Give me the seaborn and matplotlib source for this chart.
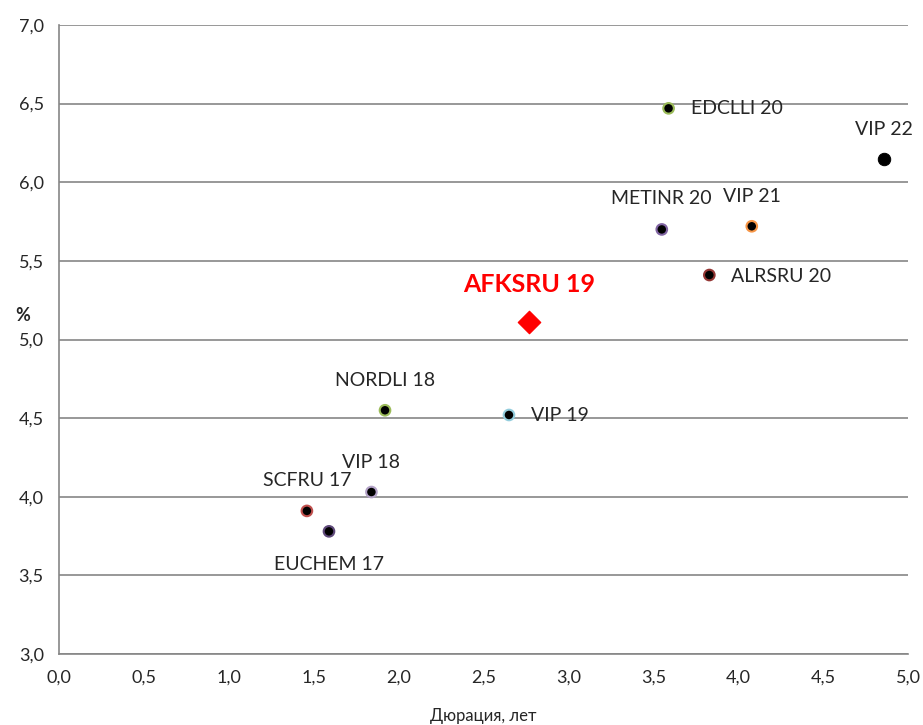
import pandas as pd
import seaborn as sns
import matplotlib.pyplot as plt

sns.set_style("white")
plt.rcParams['font.family'] = ['Lato', 'DejaVu Sans']

# bonds: duration (years) vs yield (%)
names = ['EDCLLI 20', 'VIP 22', 'METINR 20', 'VIP 21', 'ALRSRU 20', 'NORDLI 18',
         'VIP 19', 'VIP 18', 'SCFRU 17', 'EUCHEM 17']
duration = [3.59, 4.86, 3.55, 4.08, 3.83, 1.92, 2.65, 1.84, 1.46, 1.59]
yields = [6.47, 6.15, 5.70, 5.72, 5.41, 4.55, 4.52, 4.03, 3.91, 3.78]
edges = ['#9bbb59', '#000000', '#8064a2', '#f79646', '#943634', '#9bbb59',
         '#93cddd', '#b3a2c7', '#c0504d', '#5f497a']

hl_name = 'AFKSRU 19'
hl_duration = 2.77
hl_yield = 5.11

x_ticks = [0.0, 0.5, 1.0, 1.5, 2.0, 2.5, 3.0, 3.5, 4.0, 4.5, 5.0]
y_ticks = [3.0, 3.5, 4.0, 4.5, 5.0, 5.5, 6.0, 6.5, 7.0]

# label placement (pixel offset, alignment)
offsets = {
    'EDCLLI 20': (22, 0, 'left'), 'VIP 22': (0, 29, 'center'),
    'METINR 20': (0, 31, 'center'), 'VIP 21': (0, 30, 'center'),
    'ALRSRU 20': (22, -1, 'left'), 'NORDLI 18': (0, 30, 'center'),
    'VIP 19': (22, -1, 'left'), 'VIP 18': (0, 30, 'center'),
    'SCFRU 17': (0, 30, 'center'), 'EUCHEM 17': (0, -33, 'center'),
}

df = pd.DataFrame({'name': names, 'duration': duration, 'yield': yields, 'edge': edges})

fig = plt.figure(figsize=(9.23, 7.25), dpi=100)
ax = fig.add_axes([59 / 923, 1 - 654 / 725, (908 - 59) / 923, (654 - 25) / 725])

small = df[df['name'] != 'VIP 22']
big = df[df['name'] == 'VIP 22']
sns.scatterplot(ax=ax, data=small, x='duration', y='yield', color='black',
                edgecolor=small['edge'].tolist(), linewidth=1.5, s=58, zorder=3)
sns.scatterplot(ax=ax, data=big, x='duration', y='yield', color='black',
                edgecolor='black', s=80, zorder=3)
sns.scatterplot(ax=ax, x=[hl_duration], y=[hl_yield], color='#ff0000', marker='D',
                edgecolor='#ff0000', s=130, zorder=3)

for _, r in df.iterrows():
    dx, dy, ha = offsets[r['name']]
    ax.annotate(r['name'], (r['duration'], r['yield']), xytext=(dx, dy),
                textcoords='offset pixels', ha=ha, va='center', fontsize=14)
ax.annotate(hl_name, (hl_duration, hl_yield), xytext=(0, 38), textcoords='offset pixels',
            ha='center', va='center', fontsize=18, fontweight='bold', color='#ff0000')

ax.set_xlim(0, 5)
ax.set_ylim(3, 7)
ax.set_xticks(x_ticks)
ax.set_yticks(y_ticks)
ax.set_xticklabels([f'{v:.1f}'.replace('.', ',') for v in x_ticks], fontsize=13)
ax.set_yticklabels([f'{v:.1f}'.replace('.', ',') for v in y_ticks], fontsize=13)
ax.yaxis.grid(True, color='#868686', linewidth=1.2)
ax.xaxis.grid(False)
for side in ['top', 'right']:
    ax.spines[side].set_visible(False)
for side in ['left', 'bottom']:
    ax.spines[side].set_color('#868686')
    ax.spines[side].set_linewidth(1.2)
ax.tick_params(axis='both', direction='out', length=5, color='#868686', width=1.2, pad=6)

ax.set_xlabel('Дюрация, лет', fontsize=12, labelpad=16)
ax.set_ylabel('%', fontsize=13, fontweight='bold', rotation=0, labelpad=14)
ax.yaxis.set_label_coords(-0.043, 0.525)

fig.savefig('out.png', dpi=100)
